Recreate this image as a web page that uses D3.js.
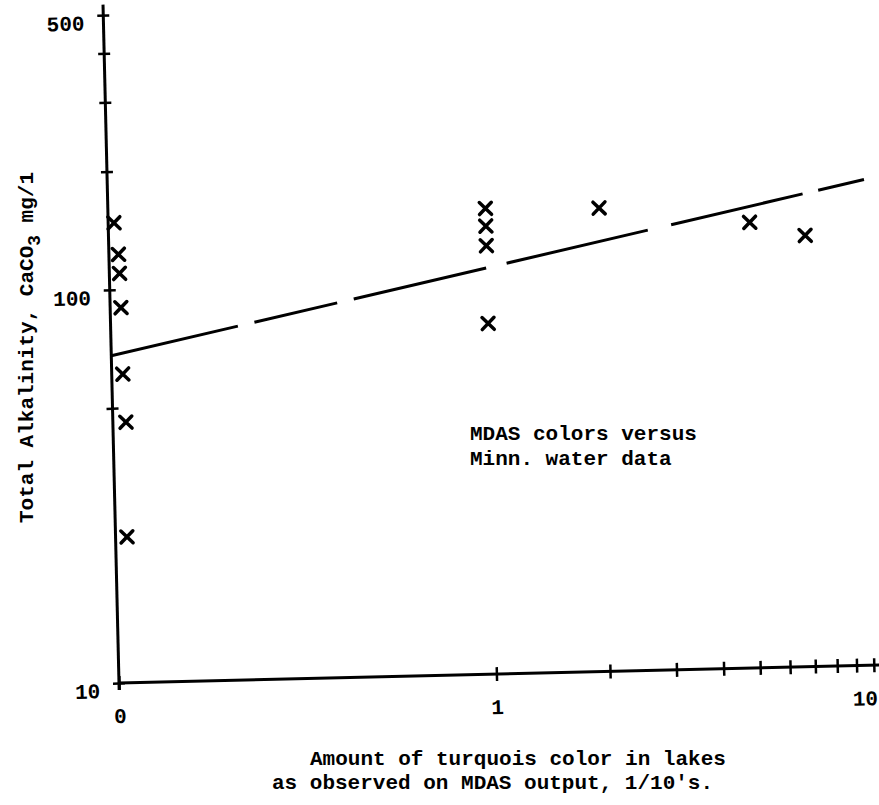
<!DOCTYPE html>
<html>
<head>
<meta charset="utf-8">
<script src="https://cdn.jsdelivr.net/npm/d3@7"></script>
<style>
  body { margin: 0; background: #fff; }
  svg { display: block; }
</style>
</head>
<body>
<svg id="chart" width="879" height="805"></svg>
<script>
// ---- data ----
const xTickValues = [0.1, 1, 2, 3, 4, 5, 6, 7, 8, 9, 10];
const xTickLabels = ["0", "1", "", "", "", "", "", "", "", "", "10"];
const yTickValues = [10, 50, 100, 200, 300, 400, 500];
const yTickLabels = ["10", "", "100", "", "", "", "500"];
// observations (x on log axis; "0" column plotted just right of 0.1)
const obsX = [0.1036, 0.106, 0.1064, 0.1068, 0.107, 0.1083, 0.1072, 1, 1, 1, 1, 2, 5, 7];
const obsY = [148, 123, 110, 90, 61, 46, 23.5, 153, 138, 123, 78, 151, 136, 125];
// fitted (dashed) line end points
const fitX = [0.1, 10.1];
const fitY = [68, 172];
const annotation = ["MDAS colors versus", "Minn. water data"];
const xTitle = ["Amount of turquois color in lakes", "as observed on MDAS output, 1/10's."];
const yTitleMain = "Total Alkalinity, CaCO";
const yTitleSub = "3";
const yTitleEnd = " mg/1";

// ---- layout ----
const FONT = "'Liberation Mono', 'Courier New', monospace";
const FS = 21;
const ox = 119, oy = 683, angle = -1.35;

const svg = d3.select("#chart");
svg.append("rect").attr("width", 879).attr("height", 805).attr("fill", "#fff");

const x = d3.scaleLog().domain([0.1, 10]).range([0, 755]);
const y = d3.scaleLog().domain([10, 500]).range([0, -668]);

const g = svg.append("g").attr("transform", `translate(${ox},${oy}) rotate(${angle})`);

// axis lines
g.append("line")
  .attr("x1", x(0.1)).attr("x2", x(10.45))
  .attr("y1", 0).attr("y2", 0)
  .attr("stroke", "#000").attr("stroke-width", 3);
g.append("line")
  .attr("x1", 0).attr("x2", 0)
  .attr("y1", 7).attr("y2", y(532))
  .attr("stroke", "#000").attr("stroke-width", 3);

// x axis ticks
const xAxis = d3.axisBottom(x).tickValues(xTickValues)
  .tickFormat((d, i) => xTickLabels[i]).tickSizeOuter(0);
const gx = g.append("g").call(xAxis);
gx.select(".domain").remove();
gx.attr("font-family", FONT).attr("font-size", FS).attr("font-weight", "bold");
gx.selectAll(".tick line").attr("y1", -7).attr("y2", 7)
  .attr("stroke", "#000").attr("stroke-width", 2.5);
gx.selectAll(".tick text").attr("y", 40).attr("dy", 0).attr("fill", "#000")
  .attr("text-anchor", d => d === 10 ? "end" : "middle")
  .attr("dx", d => d === 10 ? 3 : 0);

// y axis ticks
const yAxis = d3.axisLeft(y).tickValues(yTickValues)
  .tickFormat((d, i) => yTickLabels[i]).tickSizeOuter(0);
const gy = g.append("g").call(yAxis);
gy.select(".domain").remove();
gy.attr("font-family", FONT).attr("font-size", FS).attr("font-weight", "bold");
gy.selectAll(".tick line").attr("x1", -6).attr("x2", 6)
  .attr("stroke", "#000").attr("stroke-width", 2.5);
gy.selectAll(".tick text").attr("x", -19).attr("y", 7).attr("dy", "0.35em").attr("fill", "#000");

// dashed fitted line
const line = d3.line().x(d => x(d[0])).y(d => y(d[1]));
g.append("path")
  .datum(fitX.map((v, i) => [v, fitY[i]]))
  .attr("d", line)
  .attr("fill", "none")
  .attr("stroke", "#000")
  .attr("stroke-width", 3)
  .attr("stroke-dasharray", "130 17 85 17 136 21 145 24 135 16 90");

// x markers
g.selectAll(".obs")
  .data(obsX.map((v, i) => [v, obsY[i]]))
  .join("path")
  .attr("class", "obs")
  .attr("transform", d => `translate(${x(d[0])},${y(d[1])})`)
  .attr("d", "M-6,-6L6,6M-6,6L6,-6")
  .attr("stroke", "#000")
  .attr("stroke-width", 3.5)
  .attr("stroke-linecap", "round")
  .attr("fill", "none");

// annotation
const ann = svg.append("text")
  .attr("font-family", FONT).attr("font-size", FS).attr("font-weight", "bold")
  .attr("fill", "#000");
annotation.forEach((t, i) => {
  ann.append("tspan").attr("x", 470).attr("y", 440 + i * 25).text(t);
});

// x title
const xt = svg.append("text")
  .attr("font-family", FONT).attr("font-size", FS).attr("font-weight", "bold")
  .attr("fill", "#000");
xt.append("tspan").attr("x", 310).attr("y", 765).text(xTitle[0]);
xt.append("tspan").attr("x", 272).attr("y", 789).text(xTitle[1]);

// y title
const yt = svg.append("text")
  .attr("transform", "translate(33,523) rotate(-90)")
  .attr("font-family", FONT).attr("font-size", FS).attr("font-weight", "bold")
  .attr("fill", "#000");
yt.append("tspan").text(yTitleMain);
yt.append("tspan").attr("dy", 7).attr("font-size", FS * 0.85).text(yTitleSub);
yt.append("tspan").attr("dy", -7).text(yTitleEnd);
</script>
</body>
</html>
